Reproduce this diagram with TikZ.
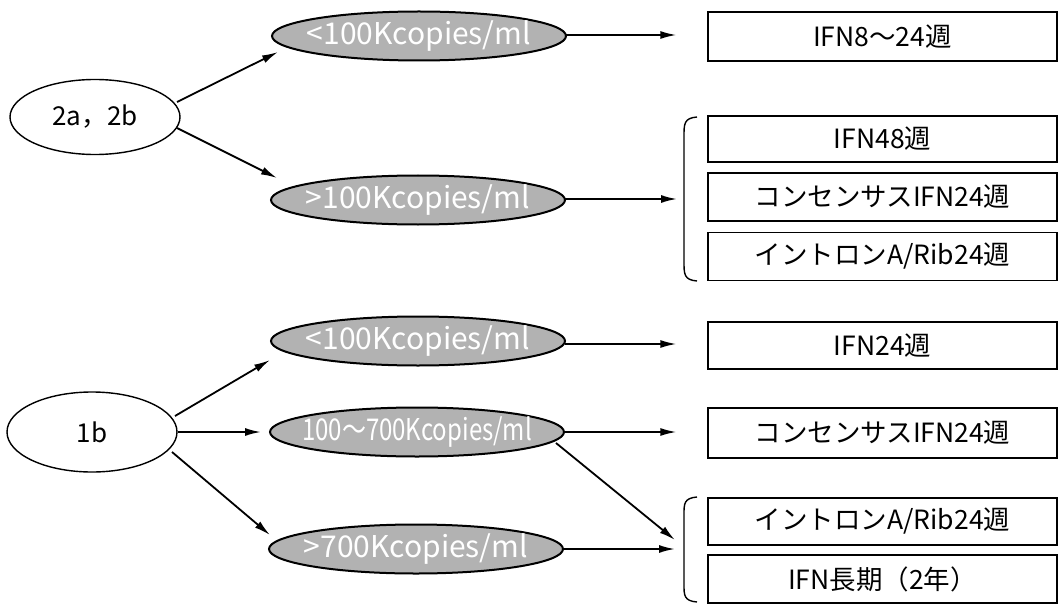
\documentclass[tikz,border=0pt]{standalone}
\usepackage{graphicx}
\usepackage{fontspec}
\setmainfont{Noto Sans CJK JP}
\usetikzlibrary{shapes.geometric,arrows.meta,calc}
\begin{document}
\begin{tikzpicture}[x=1pt,y=-1pt,
  grp/.style={ellipse,draw,line width=1.4pt,inner sep=0pt,minimum width=170pt,
    font=\fontsize{26}{30}\selectfont},
  lvl/.style={ellipse,draw,line width=2pt,fill=gray!60,inner sep=0pt,
    minimum width=294pt,minimum height=49pt,text=white,
    font=\fontsize{30}{33}\selectfont},
  tx/.style={draw,line width=1.2pt,minimum width=349pt,inner sep=0pt,
    font=\fontsize{26.5}{30}\selectfont},
  arr/.style={line width=1.8pt,-{Latex[length=16pt,width=8pt]}},
  brk/.style={line width=1.4pt}]
\useasboundingbox (0,0) rectangle (1059,604);

% genotype groups
\node[grp,minimum height=75pt] (ab) at (95,117) {2a，2b};
\node[grp,minimum height=80pt] (ob) at (92,432) {1b};

% viral load classes
\node[lvl] (e1) at (419,36)  {\makebox[0pt]{<100Kcopies/ml}};
\node[lvl] (e2) at (418,200) {\makebox[0pt]{>100Kcopies/ml}};
\node[lvl] (e3) at (418,341) {\makebox[0pt]{<100Kcopies/ml}};
\node[lvl] (e4) at (417,432) {\makebox[0pt]{\scalebox{0.8}[1]{100～700Kcopies/ml}}};
\node[lvl] (e5) at (416,549) {\makebox[0pt]{>700Kcopies/ml}};

% therapies
\node[tx,minimum height=49pt] (b1)  at (882.5,36.5)  {IFN8～24週};
\node[tx,minimum height=46pt] (b2a) at (882.5,139)   {IFN48週};
\node[tx,minimum height=48pt] (b2b) at (882.5,197)   {コンセンサスIFN24週};
\node[tx,minimum height=48pt] (b2c) at (882.5,256.5) {イントロンA/Rib24週};
\node[tx,minimum height=47pt] (b3)  at (882.5,345.5) {IFN24週};
\node[tx,minimum height=50pt] (b4)  at (882.5,433)   {コンセンサスIFN24週};
\node[tx,minimum height=47pt] (b5a) at (882.5,521.5) {イントロンA/Rib24週};
\node[tx,minimum height=48pt] (b5b) at (882.5,579)   {IFN長期（2年）};

% option brackets
\draw[brk] (697,117) .. controls (684,118) and (684,124) .. (684,136)
  -- (684,262) .. controls (684,274) and (684,280) .. (697,281);
\draw[brk] (697,497) .. controls (684,498) and (684,504) .. (684,514)
  -- (684,585) .. controls (684,595) and (684,601) .. (697,602);
\coordinate (k2) at (677,199);
\coordinate (k3a) at (675,540);
\coordinate (k3b) at (675,549);

% connectors
\draw[arr] ($(ab.center)+(82,-15)$) -- ($(e1.center)+(-141,16)$);
\draw[arr] ($(ab.center)+(82,11)$) -- ($(e2.center)+(-141,-22)$);
\draw[arr] ($(e1.center)+(146,-1)$) -- ($(b1.west)+(-31,-1.5)$);
\draw[arr] ($(e2.center)+(147,-1)$) -- (k2);

\draw[arr] ($(ob.center)+(83,-16)$) -- ($(e3.center)+(-148,19)$);
\draw[arr] (ob.east) -- ($(e4.west)+(-8,0)$);
\draw[arr] ($(ob.center)+(80,20)$) -- ($(e5.center)+(-146,-14)$);
\draw[arr] ($(e3.center)+(147,3)$) -- ($(b3.west)+(-31,-1.5)$);
\draw[arr] (e4.east) -- ($(b4.west)+(-31,-1)$);
\draw[arr] ($(e4.center)+(139,11)$) -- (k3a);
\draw[arr] (e5.east) -- (k3b);
\end{tikzpicture}
\end{document}
